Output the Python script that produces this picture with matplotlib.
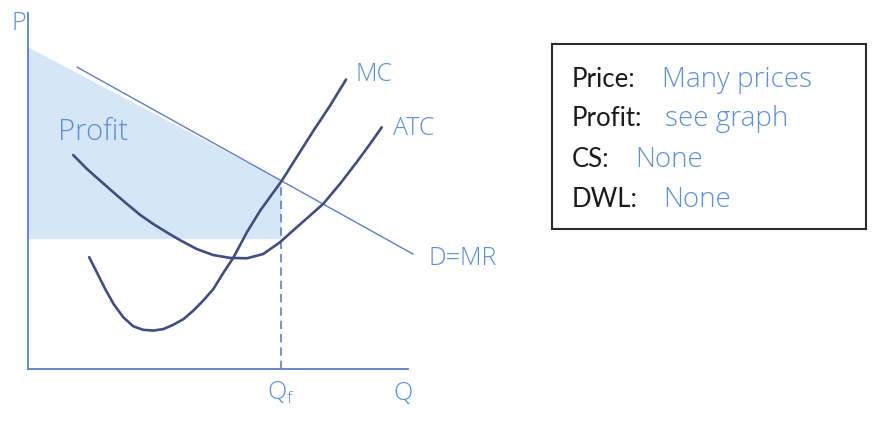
import numpy as np
import matplotlib
matplotlib.use('Agg')
from matplotlib import pyplot as plt
from matplotlib.patches import Rectangle

# curves (Q, P on a 0-100 scale)
mc_q = [16.1, 18.1, 20.3, 22.5, 25.1, 27.7, 30.3, 33.0, 35.6, 38.2, 40.9, 43.5, 46.1,
        48.8, 51.4, 54.0, 57.6, 61.1, 66.8, 70.7, 75.1, 79.5, 83.7]
mc_p = [31.4, 27.2, 22.5, 18.3, 14.5, 12.0, 11.0, 10.8, 11.2, 12.4, 14.0, 16.4, 19.2,
        22.5, 27.0, 31.2, 38.4, 44.5, 52.9, 59.5, 66.9, 74.0, 81.3]

atc_q = [11.9, 15.5, 19.0, 22.5, 26.0, 29.5, 33.0, 36.5, 40.0, 44.4, 48.8, 53.2, 57.6,
         61.9, 66.3, 70.7, 73.8, 77.7, 82.1, 86.5, 90.0, 93.1]
atc_p = [60.1, 56.2, 52.9, 49.6, 46.4, 43.3, 40.7, 38.4, 36.2, 33.7, 32.0, 31.2, 31.1,
         32.3, 35.6, 39.8, 42.7, 46.4, 52.0, 58.1, 63.2, 67.9]

demand_q = [12.9, 101.3]
demand_p = [84.8, 32.3]

q_f = 66.6
p_f = 52.9
profit_top = 90.4
profit_floor = 36.5

box_labels = ['Price:', 'Profit:', 'CS:', 'DWL:']
box_values = ['Many prices', 'see graph', 'None', 'None']

blue = '#6090d4'
axis_blue = '#5d7fc4'
navy = '#414e7e'
shade = '#d6e6f6'

plt.rcParams['font.family'] = ['Open Sans', 'DejaVu Sans']
plt.rcParams['font.weight'] = 'light'

fig = plt.figure(figsize=(8.92, 4.27), dpi=100)
ax = fig.add_axes([28/892, 57/427, 380/892, 356/427])
ax.set_xlim(0, 100)
ax.set_ylim(0, 100)
for s in ['top', 'right']:
    ax.spines[s].set_visible(False)
for s in ['left', 'bottom']:
    ax.spines[s].set_color(axis_blue)
    ax.spines[s].set_linewidth(1.3)
ax.set_xticks([])
ax.set_yticks([])
ax.patch.set_alpha(0)

# profit area
ax.fill([0, q_f, q_f, 0], [profit_top, p_f, profit_floor, profit_floor],
        color=shade, lw=0, zorder=1)

ax.plot(demand_q, demand_p, color=axis_blue, lw=1.0, clip_on=False, zorder=2)
ax.plot([q_f, q_f], [0, p_f], color=axis_blue, lw=1.2, ls=(0, (5, 3)), zorder=2)
ax.plot(mc_q, mc_p, color=navy, lw=1.9, solid_capstyle='round', solid_joinstyle='round', zorder=3)
ax.plot(atc_q, atc_p, color=navy, lw=1.9, solid_capstyle='round', solid_joinstyle='round', zorder=3)

fs = 18
ax.text(-2.4, 97.2, 'P', color=blue, fontsize=fs, ha='center', va='center', clip_on=False)
ax.text(17.1, 66.9, 'Profit', color=blue, fontsize=21, ha='center', va='center')
ax.text(86.3, 83.1, 'MC', color=blue, fontsize=fs, ha='left', va='center', clip_on=False)
ax.text(96.1, 67.7, 'ATC', color=blue, fontsize=fs, ha='left', va='center', clip_on=False)
ax.text(105.3, 31.2, 'D=MR', color=blue, fontsize=fs, ha='left', va='center', clip_on=False)
ax.text(q_f, -6.5, r'Q$_{\mathregular{f}}$', color=blue, fontsize=fs, ha='center', va='center', clip_on=False)
ax.text(98.7, -6.5, 'Q', color=blue, fontsize=fs, ha='center', va='center', clip_on=False)

# info box
fig.patches.append(Rectangle((552/892, 1 - 230/427), 314/892, 185/427,
                             transform=fig.transFigure, fill=False,
                             edgecolor='#2b2b2b', lw=1.5))
baselines = [87, 126, 167, 207]
value_x = [662, 665, 635, 663]
for lab, val, yb, vx in zip(box_labels, box_values, baselines, value_x):
    fig.text(572/892, 1 - yb/427, lab, color='#1a1a1a', fontsize=18.5, va='baseline',
             family=['Lato', 'DejaVu Sans'], weight='normal')
    fig.text(vx/892, 1 - yb/427, val, color=blue, fontsize=20, va='baseline')

plt.savefig('out.png', dpi=100)
